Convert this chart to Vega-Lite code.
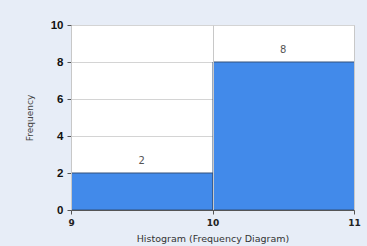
{
  "$schema": "https://vega.github.io/schema/vega-lite/v6.json",
  "autosize": "none",
  "width": 283,
  "height": 185,
  "padding": {"left": 71, "top": 25, "right": 13, "bottom": 36},
  "background": "#e7edf7",
  "config": {
    "view": {"fill": "white", "stroke": "#c8c8c8"},
    "font": "DejaVu Sans",
    "axisX": {
      "labelOverlap": false, "labelFlush": false,
      "grid": true, "gridColor": "#c8c8c8",
      "domainColor": "#555", "tickColor": "#555", "tickSize": 4,
      "labelFontWeight": "bold", "labelFontSize": 9, "labelColor": "#222", "labelPadding": 4,
      "titleFontWeight": "normal", "titleFontSize": 9.5, "titleColor": "#333", "titlePadding": 6
    },
    "axisY": {
      "labelOverlap": false, "labelFlush": false,
      "grid": true, "gridColor": "#d4d4d4",
      "domainColor": "#555", "tickColor": "#555", "tickSize": 4,
      "labelFont": "Liberation Sans", "labelFontWeight": "bold", "labelFontSize": 11.5, "labelColor": "#111", "labelPadding": 4,
      "titleFontWeight": "normal", "titleFontSize": 9, "titleColor": "#444", "titlePadding": 16
    }
  },
  "data": {
    "values": [
      {"bin_start": 9, "bin_end": 10, "class_mark": 9.5, "freq": 2},
      {"bin_start": 10, "bin_end": 11, "class_mark": 10.5, "freq": 8}
    ]
  },
  "layer": [
    {
      "mark": {"type": "rect", "fill": "#428aea", "stroke": "#33507a", "strokeWidth": 1},
      "encoding": {
        "x": {
          "field": "bin_start", "type": "quantitative", "bin": {"binned": true, "step": 1},
          "scale": {"domain": [9, 11], "nice": false, "zero": false},
          "axis": {"values": [9, 10, 11], "format": "d", "title": "Histogram (Frequency Diagram)"}
        },
        "x2": {"field": "bin_end"},
        "y": {
          "field": "freq", "type": "quantitative",
          "scale": {"domain": [0, 10], "nice": false},
          "axis": {"values": [0, 2, 4, 6, 8, 10], "title": "Frequency"}
        },
        "y2": {"datum": 0}
      }
    },
    {
      "mark": {"type": "text", "baseline": "bottom", "dy": -7, "fontSize": 10, "color": "#555"},
      "encoding": {
        "x": {
          "field": "class_mark", "type": "quantitative",
          "axis": {"values": [9, 10, 11], "format": "d", "title": "Histogram (Frequency Diagram)"}
        },
        "y": {
          "field": "freq", "type": "quantitative",
          "axis": {"values": [0, 2, 4, 6, 8, 10], "title": "Frequency"}
        },
        "text": {"field": "freq", "type": "quantitative"}
      }
    }
  ]
}
